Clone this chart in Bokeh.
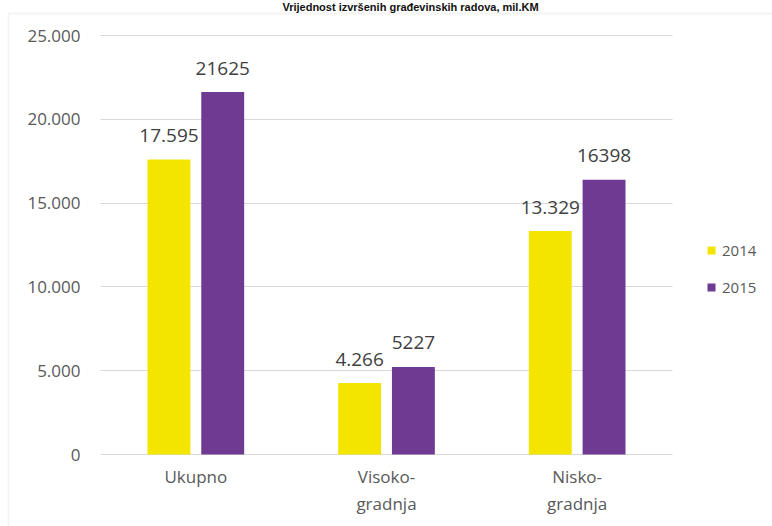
from bokeh.plotting import figure
from bokeh.models import (ColumnDataSource, Range1d, Legend, LegendItem, FixedTicker, Label,
                          LinearAxis, BoxAnnotation)
from bokeh.core.properties import value
from bokeh.embed import file_html
from bokeh.resources import INLINE

# ---- data ----
categories = ["Ukupno", "Visoko-\ngradnja", "Nisko-\ngradnja"]
series_names = ["2014", "2015"]
values_2014 = [17595, 4266, 13329]
values_2015 = [21625, 5227, 16398]
labels_2014 = ["17.595", "4.266", "13.329"]
labels_2015 = ["21625", "5227", "16398"]
y_ticks = [0, 5000, 10000, 15000, 20000, 25000]
y_tick_labels = ["0", "5.000", "10.000", "15.000", "20.000", "25.000"]
title_text = "Vrijednost izvršenih građevinskih radova, mil.KM"

YELLOW = "#F4E500"
PURPLE = "#6F3A92"
GRID = "#D9D9D9"
TICK_COLOR = "#595959"
LABEL_COLOR = "#404040"
FONT = "Open Sans"

# ---- layout constants (pixels) ----
W, H = 772, 526
PLOT_LEFT, PLOT_RIGHT = 100, 672      # extent of the category area / gridlines
PLOT_TOP, PLOT_BOTTOM = 35, 454       # y of 25000 and of 0
Y_MAX = 25000
n = len(categories)
px_per_cat = (PLOT_RIGHT - PLOT_LEFT) / n
px_per_val = (PLOT_BOTTOM - PLOT_TOP) / Y_MAX
x_start = -PLOT_LEFT / px_per_cat
x_end = n + (W - PLOT_RIGHT) / px_per_cat
y_start = -(H - PLOT_BOTTOM) / px_per_val
y_end = Y_MAX + PLOT_TOP / px_per_val

off = 0.141
bw = 0.225
cat_pos = [i + 0.5 for i in range(n)]

src = ColumnDataSource(dict(
    x14=[c - off for c in cat_pos], x15=[c + off for c in cat_pos],
    v14=values_2014, v15=values_2015, l14=labels_2014, l15=labels_2015))

p = figure(width=W, height=H, x_range=Range1d(x_start, x_end), y_range=Range1d(y_start, y_end),
           output_backend="svg", toolbar_location=None, x_axis_location=None,
           y_axis_location=None, min_border=0)
p.border_fill_color = "white"
p.background_fill_color = "white"
p.outline_line_color = None
p.xgrid.grid_line_color = None
p.ygrid.grid_line_color = None

# horizontal gridlines: inward ticks of an unlabeled axis, drawn beneath the bars
grid_axis = LinearAxis(ticker=FixedTicker(ticks=y_ticks), fixed_location=0,
                       major_label_overrides={t: "" for t in y_ticks},
                       axis_line_color=None, minor_tick_line_color=None,
                       major_tick_line_color=GRID, major_tick_line_width=1,
                       major_tick_out=0, major_tick_in=PLOT_RIGHT - PLOT_LEFT,
                       major_label_standoff=0, level="underlay")
p.add_layout(grid_axis, "left")

# y axis labels
y_axis = LinearAxis(ticker=FixedTicker(ticks=y_ticks), fixed_location=0,
                    major_label_overrides={t: l for t, l in zip(y_ticks, y_tick_labels)},
                    axis_line_color=None, minor_tick_line_color=None,
                    major_tick_line_color=None, major_tick_out=0, major_tick_in=0,
                    major_label_standoff=20, major_label_text_font=FONT,
                    major_label_text_font_size="17px", major_label_text_color=TICK_COLOR)
p.add_layout(y_axis, "left")

# x axis: category labels
x_axis = LinearAxis(ticker=FixedTicker(ticks=cat_pos), fixed_location=0,
                    major_label_overrides={c: l for c, l in zip(cat_pos, categories)},
                    axis_line_color=None, minor_tick_line_color=None,
                    major_tick_line_color=None, major_tick_out=0, major_tick_in=0,
                    major_label_standoff=10, major_label_text_font=FONT,
                    major_label_text_font_size="17px", major_label_text_color=TICK_COLOR,
                    major_label_text_line_height=1.2)
p.add_layout(x_axis, "below")

r14 = p.vbar(x="x14", top="v14", width=bw, source=src, fill_color=YELLOW, line_color=None)
r15 = p.vbar(x="x15", top="v15", width=bw, source=src, fill_color=PURPLE, line_color=None)

for xc, yc, tc in (("x14", "v14", "l14"), ("x15", "v15", "l15")):
    p.text(x=xc, y=yc, text=tc, source=src, text_align="center",
           text_baseline="alphabetic", y_offset=-24, text_font=value(FONT),
           text_font_size="19px", text_color=LABEL_COLOR)

legend = Legend(items=[LegendItem(label=series_names[0], renderers=[r14]),
                       LegendItem(label=series_names[1], renderers=[r15])],
                location=(706, H - 297), orientation="vertical",
                glyph_width=10, glyph_height=10, label_height=20, spacing=17,
                padding=0, margin=0, border_line_color=None, background_fill_alpha=0,
                label_text_font=FONT, label_text_font_size="15px",
                label_text_color=TICK_COLOR, label_standoff=6)
p.add_layout(legend)

# chart-area border: only its left and top edges fall on the page
border = BoxAnnotation(left=8, right=W + 50, top=H - 13, bottom=-50,
                       left_units="screen", right_units="screen",
                       top_units="screen", bottom_units="screen",
                       fill_color=None, line_color=GRID, line_width=2)
p.add_layout(border)

title = Label(x=410, y=H, x_units="screen", y_units="screen", text=title_text,
              text_align="center", text_baseline="top", text_font="Liberation Sans",
              text_font_style="bold", text_font_size="11px", text_color="#111111")
p.add_layout(title)

open("out.html", "w").write(file_html(p, INLINE))
